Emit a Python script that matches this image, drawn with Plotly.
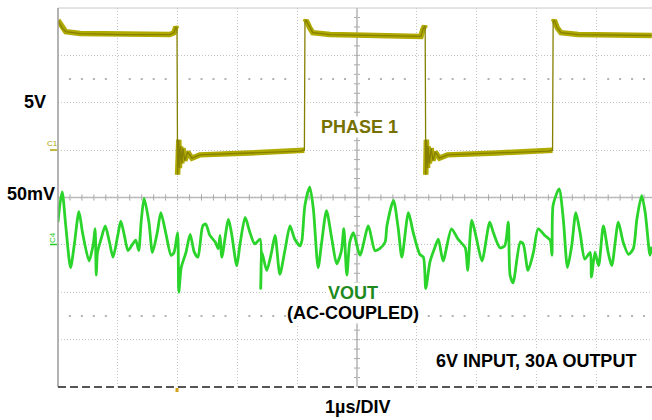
import numpy as np
import plotly.graph_objects as go

# ---------------- data ----------------
# PHASE 1 switch-node waveform: time (us) and volts (5 V/div, ground marker C1)
phase_t = [0.00, 0.07, 0.13, 0.37, 1.04, 1.87, 1.94, 1.97, 1.99,
           2.00, 2.02, 2.03, 2.05, 2.07, 2.09, 2.12, 2.17, 2.24, 2.37, 3.21, 4.05, 4.12,
           4.13, 4.15, 4.21, 4.26, 4.55, 5.72, 6.07, 6.10, 6.13, 6.14,
           6.15, 6.16, 6.18, 6.19, 6.21, 6.24, 6.27, 6.31, 6.38, 6.51, 7.35, 8.20, 8.27,
           8.28, 8.30, 8.35, 8.41, 8.70, 9.93]
phase_v = [13.7, 12.9, 12.5, 12.3, 12.2, 12.2, 12.4, 13.0, 12.8,
           -2.6, 1.1, -1.9, 0.4, -1.4, 0.2, -1.1, -0.2, -0.85, -0.5, -0.3, -0.1, 0.0,
           13.5, 13.7, 12.9, 12.4, 12.2, 12.0, 12.0, 12.7, 13.1, 12.9,
           -2.6, 1.1, -1.9, 0.4, -1.4, 0.2, -1.1, -0.2, -0.85, -0.5, -0.3, -0.1, 0.0,
           13.5, 13.7, 12.9, 12.4, 12.2, 12.1]

# VOUT ripple (AC coupled): time (us) and millivolts (50 mV/div, marker C4)
vout_t = [0.00, 0.03, 0.07, 0.13, 0.21, 0.27, 0.35, 0.41, 0.52, 0.59,
          0.62, 0.64, 0.66, 0.72, 0.79, 0.86, 0.92, 1.00, 1.05, 1.11,
          1.17, 1.25, 1.30, 1.35, 1.39, 1.44, 1.52, 1.58, 1.66, 1.72,
          1.81, 1.89, 1.94, 2.00, 2.02, 2.06, 2.14, 2.21, 2.28, 2.34,
          2.42, 2.47, 2.54, 2.63, 2.68, 2.71, 2.74, 2.85, 2.90, 2.99,
          3.04, 3.13, 3.21, 3.29, 3.38, 3.39, 3.41, 3.49, 3.57, 3.63,
          3.71, 3.80, 3.88, 3.96, 4.05, 4.08, 4.13, 4.21, 4.27, 4.35,
          4.41, 4.49, 4.58, 4.66, 4.74, 4.78, 4.83, 4.88, 4.94, 5.05,
          5.19, 5.30, 5.38, 5.47, 5.50, 5.61, 5.69, 5.75, 5.86, 5.94,
          6.05, 6.11, 6.15, 6.22, 6.30, 6.36, 6.44, 6.58, 6.69, 6.81,
          6.85, 6.92, 7.00, 7.09, 7.22, 7.28, 7.39, 7.47, 7.53, 7.56,
          7.61, 7.73, 7.78, 7.86, 7.95, 8.03, 8.14, 8.23, 8.26, 8.28,
          8.38, 8.45, 8.52, 8.59, 8.66, 8.73, 8.81, 8.90, 8.92, 8.98,
          9.04, 9.12, 9.20, 9.26, 9.37, 9.45, 9.54, 9.62, 9.68, 9.76,
          9.82, 9.90, 9.93]
vout_mv = [24, 42, 56, 20, -24, -1, 35, 13, -17, 1,
           17, -32, -8, 6, 20, 3, -13, 10, 25, 10,
           -6, 1, 5, -6, 24, 49, 24, -8, 13, 34,
           10, -11, -8, 13, -50, -24, -8, 11, -8, -13,
           20, 22, 10, 3, -4, 10, -13, 27, 13, -22,
           -1, 29, 13, 1, 6, -46, -8, -27, -8, 10,
           -31, -4, 20, 6, -1, 5, 42, 61, 38, -24,
           3, 36, 6, -20, -6, 17, -32, 3, 13, -11,
           20, -6, -4, 3, 20, 47, 17, -13, 34, 13,
           -10, -13, -46, -18, -3, 6, -17, 17, 6, -3,
           -27, 26, 6, -17, 24, 13, -3, -1, 24, -32,
           -40, 3, 1, -27, -8, 17, 10, 5, -11, 42,
           59, 27, -24, -1, 34, 13, -15, -8, -34, -8,
           -22, 20, -8, -22, 24, 3, -10, -4, 27, 52,
           34, -11, -2]

V_PER_DIV = 5.0
MV_PER_DIV = 50.0
C1_POS = 1.0     # divisions
C4_POS = -1.0    # divisions

# ---------------- geometry ----------------
W, H = 652, 420
L, T, B = 58, 8, 33
PX_PER_XDIV = 59.8
X_MAX = (W - L) / PX_PER_XDIV
PLOT_H = H - T - B

def px(xp, yp):
    """pixel -> paper coordinates"""
    return (xp - L) / (W - L), (H - B - yp) / PLOT_H

phase_div = [v / V_PER_DIV + C1_POS for v in phase_v]
vout_div = [v / MV_PER_DIV + C4_POS for v in vout_mv]

band_t, band_y = [], []
for i, (t, y) in enumerate(zip(phase_t, phase_div)):
    if i > 0 and abs(y - phase_div[i - 1]) > 1.5:
        band_t.append(None)
        band_y.append(None)
    band_t.append(t)
    band_y.append(y)

fig = go.Figure()

# graticule dots on the +/-2.5 div rows
dx = np.round(np.arange(0.2, X_MAX, 0.2), 3)
dx = dx[np.abs(dx - np.round(dx)) > 1e-6]
for yy in (2.5, -2.5):
    fig.add_trace(go.Scatter(x=dx, y=[yy] * len(dx), mode="markers",
                             marker=dict(symbol="square", size=2, color="#b0b0b0"),
                             hoverinfo="skip"))

fig.add_trace(go.Scatter(x=band_t, y=band_y, mode="lines",
                         line=dict(color="#b0aa00", width=5.5), hoverinfo="skip"))
fig.add_trace(go.Scatter(x=phase_t, y=phase_div, mode="lines",
                         line=dict(color="#858000", width=1.3), hoverinfo="skip"))
fig.add_trace(go.Scatter(x=vout_t, y=vout_div, mode="lines",
                         line=dict(color="#2ad42a", width=2.8, shape="spline", smoothing=0.7),
                         hoverinfo="skip"))

shapes = []
# centre cross-hair
shapes.append(dict(type="line", xref="x", yref="paper", x0=5, x1=5, y0=0, y1=1,
                   line=dict(color="#b4b4b4", width=1.5), layer="below"))
shapes.append(dict(type="line", xref="paper", yref="y", x0=0, x1=1, y0=0, y1=0,
                   line=dict(color="#b4b4b4", width=1.5), layer="below"))
for k in np.arange(0.2, X_MAX, 0.2):
    shapes.append(dict(type="line", xref="x", yref="y", x0=k, x1=k, y0=-0.065, y1=0.065,
                       line=dict(color="#a8a8a8", width=1), layer="below"))
for k in np.arange(-3.8, 4.0, 0.2):
    shapes.append(dict(type="line", xref="x", yref="y", x0=4.95, x1=5.05, y0=k, y1=k,
                       line=dict(color="#a8a8a8", width=1), layer="below"))
# borders
shapes.append(dict(type="line", xref="paper", yref="paper", x0=0, x1=1, y0=1, y1=1,
                   line=dict(color="#c8c8c8", width=1)))
shapes.append(dict(type="line", xref="paper", yref="paper", x0=0, x1=0, y0=0, y1=1,
                   line=dict(color="#9a9a9a", width=1.5)))
shapes.append(dict(type="line", xref="paper", yref="paper", x0=0, x1=1, y0=0, y1=0,
                   line=dict(color="#555555", width=2, dash="8px,4px")))
# trigger marker
x0p, y0p = px(175.5, 388)
x1p, y1p = px(178.5, 392)
shapes.append(dict(type="rect", xref="paper", yref="paper", x0=x0p, x1=x1p, y0=y0p, y1=y1p,
                   line=dict(width=0), fillcolor="#d4a017"))
# channel ground markers
a, b = px(50, 150)
c, _ = px(57, 150)
shapes.append(dict(type="line", xref="paper", yref="paper", x0=a, x1=c, y0=b, y1=b,
                   line=dict(color="#a8a200", width=1.5)))
a, b = px(50, 244.5)
c, _ = px(57, 244.5)
shapes.append(dict(type="line", xref="paper", yref="paper", x0=a, x1=c, y0=b, y1=b,
                   line=dict(color="#22cc22", width=1.5)))

FONT = "Liberation Sans, Arial, sans-serif"
annotations = []
def add_text(txt, xp, yp, size=18, color="black", bg=None, angle=0):
    xa, ya = px(xp, yp)
    annotations.append(dict(text=txt, x=xa, y=ya, xref="paper", yref="paper",
                            xanchor="center", yanchor="middle", showarrow=False,
                            textangle=angle,
                            font=dict(family=FONT, size=size, color=color),
                            bgcolor=bg, borderpad=0))

add_text("<b>5V</b>", 35, 102)
add_text("<b>50mV</b>", 31, 194)
add_text("<b>PHASE 1</b>", 359, 127, color="#767100", bg="white")
add_text("<b>VOUT</b>", 353, 293, color="#1e8a1e", bg="white")
add_text("<b>(AC-COUPLED)</b>", 353, 313, bg="white")
add_text("<b>6V INPUT, 30A OUTPUT</b>", 536, 361, bg="white")
add_text("<b>1µs/DIV</b>", 357, 407)
add_text("C1", 52.5, 143, size=8, color="#a8a200")
add_text("C4", 52, 238, size=8, color="#22cc22", angle=-90)

fig.update_layout(
    width=W, height=H,
    margin=dict(l=L, r=0, t=T, b=B, pad=0),
    paper_bgcolor="white", plot_bgcolor="white",
    showlegend=False,
    shapes=shapes,
    annotations=annotations,
    xaxis=dict(range=[0, X_MAX], tick0=0, dtick=1, showgrid=True,
               gridcolor="#c4c4c4", griddash="1px,2px", gridwidth=1,
               zeroline=False, showticklabels=False, ticks="", showline=False,
               fixedrange=True),
    yaxis=dict(range=[-4, 4], tick0=0, dtick=1, showgrid=True,
               gridcolor="#c4c4c4", griddash="1px,2px", gridwidth=1,
               zeroline=False, showticklabels=False, ticks="", showline=False,
               fixedrange=True),
)

fig.write_html("out.html", config={"displayModeBar": False},
               post_script="document.body.style.margin='0';document.body.style.overflow='hidden';")
